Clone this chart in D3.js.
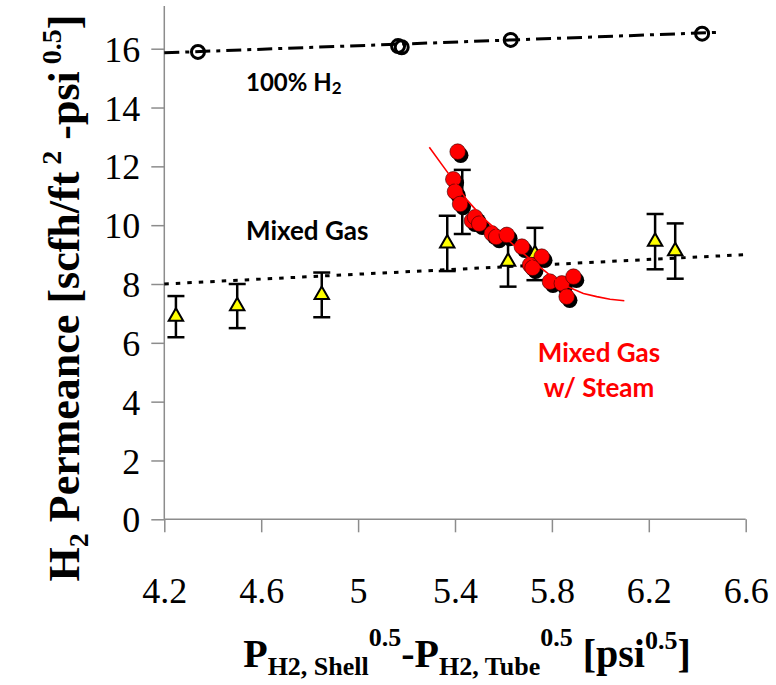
<!DOCTYPE html>
<html>
<head>
<meta charset="utf-8">
<script src="https://cdn.jsdelivr.net/npm/d3@7"></script>
<style>
  body { margin: 0; background: #fff; }
  svg { display: block; }
  .tick-label { font-family: "Liberation Serif", "Times New Roman", serif; font-size: 36px; fill: #000; }
  .title { font-family: "Liberation Serif", "Times New Roman", serif; font-weight: bold; fill: #000; }
  .note { font-family: Lato, "Open Sans", sans-serif; font-weight: bold; }
</style>
</head>
<body>
<div id="chart"></div>
<script>
// axis ticks
var xTicks = [4.2, 4.6, 5, 5.4, 5.8, 6.2, 6.6];
var yTicks = [0, 2, 4, 6, 8, 10, 12, 14, 16];

// 100% H2 (open circles) and its trend
var h2X = [4.339, 5.165, 5.18, 5.63, 6.42];
var h2Y = [15.89, 16.09, 16.05, 16.30, 16.51];
var h2TrendX = [4.2, 6.5];
var h2TrendY = [15.86, 16.56];

// mixed gas (triangles with error bars) and its trend
var mgX = [4.248, 4.501, 4.85, 5.368, 5.43, 5.619, 5.73, 6.226, 6.309];
var mgY = [6.89, 7.25, 7.63, 9.38, 10.79, 8.76, 9.02, 9.44, 9.12];
var mgErr = [0.70, 0.75, 0.76, 0.94, 1.09, 0.85, 0.89, 0.94, 0.94];
var mgTrendX = [4.2, 6.6];
var mgTrendY = [8.0, 9.0];

// mixed gas with steam (red dots) and model curve
var stX = [5.411, 5.393, 5.400, 5.421, 5.47, 5.483, 5.50, 5.552, 5.57, 5.614, 5.676, 5.758, 5.710, 5.72, 5.792, 5.841, 5.889, 5.861];
var stY = [12.50, 11.56, 11.14, 10.72, 10.15, 10.27, 10.05, 9.72, 9.60, 9.67, 9.27, 8.93, 8.65, 8.55, 8.08, 8.02, 8.25, 7.57];
var curveX = [5.294, 5.352, 5.392, 5.449, 5.517, 5.600, 5.682, 5.765, 5.834, 5.930, 5.985, 6.040, 6.099];
var curveY = [12.65, 11.99, 11.54, 10.86, 10.24, 9.63, 9.04, 8.48, 8.02, 7.68, 7.57, 7.48, 7.43];

var Chart = {};

Chart.init = function() {
    var width = 776, height = 685;
    this.svg = d3.select('#chart').append('svg')
        .attr('width', width)
        .attr('height', height);

    this.x = d3.scaleLinear().domain([4.2, 6.6]).range([164.3, 745.7]);
    this.y = d3.scaleLinear().domain([0, 16]).range([519.3, 48.7]);

    this.drawAxes();
    this.drawTrends();
    this.drawH2();
    this.drawMixed();
    this.drawSteam();
    this.drawNotes();
    this.drawTitles();
};

Chart.drawAxes = function() {
    var self = this;
    var xAxis = d3.axisBottom(self.x).tickValues(xTicks).tickSize(13).tickFormat(d3.format('~g'));
    var yAxis = d3.axisLeft(self.y).tickValues(yTicks).tickSize(13).tickFormat(d3.format('d'));

    var gx = self.svg.append('g')
        .attr('transform', 'translate(0,' + self.y(0) + ')')
        .call(xAxis);
    var gy = self.svg.append('g')
        .attr('transform', 'translate(' + self.x(4.2) + ',0)')
        .call(yAxis);

    // y axis runs a bit above the top tick
    gy.select('.domain').attr('d', 'M0,' + (self.y(0)) + 'V6');
    gx.select('.domain').attr('d', 'M' + self.x(4.2) + ',0H' + self.x(6.6));

    [gx, gy].forEach(function(g) {
        g.selectAll('.domain, .tick line')
            .attr('stroke', '#8c8c8c')
            .attr('stroke-width', 1.5);
        g.selectAll('.tick text')
            .attr('class', 'tick-label')
            .attr('fill', '#000');
    });
    gx.selectAll('.tick text').attr('dy', null).attr('y', 84);
    gy.selectAll('.tick text').attr('x', -24).attr('dy', '0.35em');
};

Chart.drawTrends = function() {
    var self = this;
    var line = d3.line()
        .x(function(d) { return self.x(d[0]); })
        .y(function(d) { return self.y(d[1]); });

    self.svg.append('path')
        .datum(d3.zip(mgTrendX, mgTrendY))
        .attr('d', line)
        .attr('fill', 'none')
        .attr('stroke', '#000')
        .attr('stroke-width', 3)
        .attr('stroke-dasharray', '4.5,7');

    self.svg.append('path')
        .datum(d3.zip(h2TrendX, h2TrendY))
        .attr('d', line)
        .attr('fill', 'none')
        .attr('stroke', '#000')
        .attr('stroke-width', 3)
        .attr('stroke-dasharray', '15,6,4,6');
};

Chart.drawH2 = function() {
    var self = this;
    self.svg.append('g').selectAll('circle')
        .data(d3.zip(h2X, h2Y))
        .join('circle')
        .attr('cx', function(d) { return self.x(d[0]); })
        .attr('cy', function(d) { return self.y(d[1]); })
        .attr('r', 6.5)
        .attr('fill', 'none')
        .attr('stroke', '#000')
        .attr('stroke-width', 3);
};

Chart.drawMixed = function() {
    var self = this;
    var data = d3.range(mgX.length).map(function(i) {
        return {x: mgX[i], y: mgY[i], e: mgErr[i]};
    });
    var g = self.svg.append('g')
        .attr('stroke', '#000')
        .attr('stroke-width', 2.5);

    var bars = g.selectAll('g.err').data(data).join('g').attr('class', 'err');
    bars.append('line')
        .attr('x1', function(d) { return self.x(d.x); })
        .attr('x2', function(d) { return self.x(d.x); })
        .attr('y1', function(d) { return self.y(d.y + d.e); })
        .attr('y2', function(d) { return self.y(d.y - d.e); });
    [1, -1].forEach(function(s) {
        bars.append('line')
            .attr('x1', function(d) { return self.x(d.x) - 8.5; })
            .attr('x2', function(d) { return self.x(d.x) + 8.5; })
            .attr('y1', function(d) { return self.y(d.y + s * d.e); })
            .attr('y2', function(d) { return self.y(d.y + s * d.e); });
    });

    g.selectAll('path.tri').data(data).join('path')
        .attr('class', 'tri')
        .attr('d', d3.symbol(d3.symbolTriangle, 90))
        .attr('transform', function(d) {
            return 'translate(' + self.x(d.x) + ',' + self.y(d.y) + ')';
        })
        .attr('fill', '#ffff00')
        .attr('stroke-width', 2);
};

Chart.drawSteam = function() {
    var self = this;
    var line = d3.line()
        .x(function(d) { return self.x(d[0]); })
        .y(function(d) { return self.y(d[1]); });
    var pts = d3.zip(stX, stY);

    // shadows first, then red dots on top
    self.svg.append('g').selectAll('circle')
        .data(pts)
        .join('circle')
        .attr('cx', function(d) { return self.x(d[0]) + 3; })
        .attr('cy', function(d) { return self.y(d[1]) + 3.5; })
        .attr('r', 7.8)
        .attr('fill', '#000');

    self.svg.append('g').selectAll('circle')
        .data(pts)
        .join('circle')
        .attr('cx', function(d) { return self.x(d[0]); })
        .attr('cy', function(d) { return self.y(d[1]); })
        .attr('r', 7.8)
        .attr('fill', '#ff0000')
        .attr('stroke', '#300')
        .attr('stroke-width', 0.6);

    self.svg.append('path')
        .datum(d3.zip(curveX, curveY))
        .attr('d', line)
        .attr('fill', 'none')
        .attr('stroke', '#ff0000')
        .attr('stroke-width', 1.6);
};

Chart.drawNotes = function() {
    var s = this.svg;
    var t = s.append('text').attr('class', 'note').attr('font-size', 24)
        .attr('x', 246).attr('y', 91).attr('fill', '#000');
    t.append('tspan').text('100% H');
    t.append('tspan').attr('font-size', 17).attr('dy', 3).text('2');

    s.append('text').attr('class', 'note').attr('font-size', 26)
        .attr('x', 246).attr('y', 240).attr('fill', '#000')
        .text('Mixed Gas');

    s.append('text').attr('class', 'note').attr('font-size', 26)
        .attr('x', 599).attr('y', 362).attr('fill', '#ff0000')
        .attr('text-anchor', 'middle').text('Mixed Gas');
    s.append('text').attr('class', 'note').attr('font-size', 26)
        .attr('x', 599).attr('y', 397).attr('fill', '#ff0000')
        .attr('text-anchor', 'middle').text('w/ Steam');
};

Chart.drawTitles = function() {
    var s = this.svg;
    // x axis title with sub/superscripts
    var xt = s.append('text').attr('class', 'title')
        .attr('x', 467).attr('y', 667)
        .attr('text-anchor', 'middle');
    var parts = [
        ['P', 0, 40], ['H2, Shell', 8, 26], ['0.5', -29, 26], ['-P', 21, 40],
        ['H2, Tube', 8, 26], ['0.5', -29, 26], [' [psi', 21, 40], ['0.5', -18, 26], [']', 18, 40]
    ];
    parts.forEach(function(p) {
        xt.append('tspan').attr('dy', p[1]).attr('font-size', p[2]).text(p[0]);
    });

    // y axis title, rotated
    var yt = s.append('text').attr('class', 'title')
        .attr('transform', 'translate(79,298) rotate(-90)')
        .attr('text-anchor', 'middle');
    var yparts = [
        ['H', 0, 44], ['2', 9, 28], [' Permeance [scfh/ft', -9, 44], [' 2', -18, 28],
        [' -psi', 18, 44], [' 0.5', -18, 28], [']', 18, 44]
    ];
    yparts.forEach(function(p) {
        yt.append('tspan').attr('dy', p[1]).attr('font-size', p[2]).text(p[0]);
    });
};

Chart.init();
</script>
</body>
</html>
